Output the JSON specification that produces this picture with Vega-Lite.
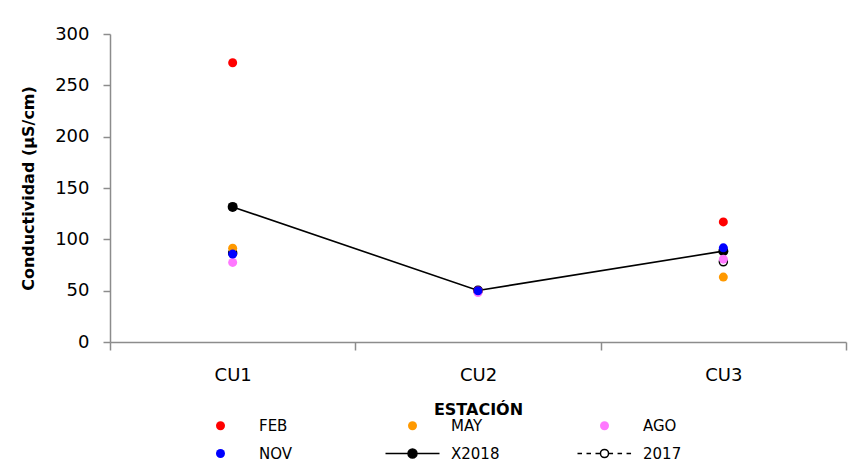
{
  "$schema": "https://vega.github.io/schema/vega-lite/v6.json",
  "width": 736,
  "height": 308,
  "autosize": "none",
  "padding": {"left": 110, "top": 34, "right": 15, "bottom": 122},
  "background": "white",
  "config": {
    "view": {"stroke": null},
    "font": "DejaVu Sans",
    "axis": {"domainColor": "#8c8c8c", "tickColor": "#8c8c8c", "domainWidth": 1.5, "tickWidth": 1.5, "grid": false, "labelColor": "#000000", "titleColor": "#000000", "labelFont": "DejaVu Sans", "titleFont": "DejaVu Sans"},
    "legend": {
      "title": null, "orient": "none", "legendX": 103, "legendY": 384, "direction": "horizontal",
      "columns": 3, "gridAlign": "all", "columnPadding": 74, "rowPadding": 12, "padding": 0,
      "symbolSize": 81, "symbolStrokeWidth": 1.5, "labelFontSize": 15, "labelFont": "DejaVu Sans", "labelColor": "#000000", "labelOffset": 31
    }
  },
  "data": {
    "values": [
      {"estacion": "CU1", "serie": "2017", "valor": 86.8},
      {"estacion": "CU3", "serie": "2017", "valor": 78.1},
      {"estacion": "CU1", "serie": "X2018", "valor": 131.6},
      {"estacion": "CU2", "serie": "X2018", "valor": 50.2},
      {"estacion": "CU3", "serie": "X2018", "valor": 88.5},
      {"estacion": "CU1", "serie": "FEB", "valor": 272},
      {"estacion": "CU2", "serie": "FEB", "valor": 50},
      {"estacion": "CU3", "serie": "FEB", "valor": 117},
      {"estacion": "CU1", "serie": "MAY", "valor": 91.4},
      {"estacion": "CU2", "serie": "MAY", "valor": 49.5},
      {"estacion": "CU3", "serie": "MAY", "valor": 63.2},
      {"estacion": "CU1", "serie": "AGO", "valor": 77.5},
      {"estacion": "CU2", "serie": "AGO", "valor": 48.1},
      {"estacion": "CU3", "serie": "AGO", "valor": 80.7},
      {"estacion": "CU1", "serie": "NOV", "valor": 85.6},
      {"estacion": "CU2", "serie": "NOV", "valor": 49.9},
      {"estacion": "CU3", "serie": "NOV", "valor": 91.7}
    ]
  },
  "encoding": {
    "x": {
      "field": "estacion", "type": "nominal", "title": "ESTACIÓN",
      "scale": {"domain": ["CU1", "CU2", "CU3"], "paddingInner": 0, "paddingOuter": 0},
      "axis": {"labelAngle": 0, "tickBand": "extent", "tickSize": 8, "labelFontSize": 18, "labelPadding": 16, "titleFontSize": 16, "titleFontWeight": "bold", "titlePadding": 17}
    },
    "y": {
      "field": "valor", "type": "quantitative", "title": "Conductividad  (µS/cm)",
      "scale": {"domain": [0, 300], "nice": false},
      "axis": {"values": [0, 50, 100, 150, 200, 250, 300], "tickSize": 7, "labelFontSize": 18, "labelPadding": 14, "titleFontSize": 16, "titleFontWeight": "bold", "titlePadding": 18}
    }
  },
  "layer": [
    {
      "transform": [{"filter": "datum.serie === '2017'"}],
      "mark": {"type": "point", "shape": "circle", "filled": false, "fill": "white", "stroke": "black", "strokeWidth": 1.5, "size": 64, "opacity": 1},
      "encoding": {}
    },
    {
      "transform": [{"filter": "datum.serie === 'X2018'"}],
      "mark": {"type": "line", "color": "black", "strokeWidth": 1.6},
      "encoding": {}
    },
    {
      "transform": [{"filter": "datum.serie === 'X2018'"}],
      "mark": {"type": "circle", "color": "black", "size": 100, "opacity": 1},
      "encoding": {}
    },
    {
      "transform": [{"filter": "datum.serie !== 'X2018' && datum.serie !== '2017'"}],
      "mark": {"type": "point", "size": 81, "opacity": 1, "strokeWidth": 1.5},
      "encoding": {
        "fill": {
          "field": "serie", "type": "nominal",
          "scale": {"domain": ["FEB", "MAY", "AGO", "NOV", "X2018", "2017"], "range": ["#ff0000", "#ff9900", "#ff77ff", "#0000ff", "#000000", "#ffffff"]}
        },
        "stroke": {
          "field": "serie", "type": "nominal",
          "scale": {"domain": ["FEB", "MAY", "AGO", "NOV", "X2018", "2017"], "range": ["transparent", "transparent", "transparent", "transparent", "#000000", "#000000"]}
        },
        "shape": {
          "field": "serie", "type": "nominal",
          "scale": {"domain": ["FEB", "MAY", "AGO", "NOV", "X2018", "2017"], "range": ["circle", "circle", "circle", "circle", "M-6,0L-1,0M1,0L6,0M1,0A1,1,0,1,1,-1,0A1,1,0,1,1,1,0Z", "M-6,0L-5,0M-4,0L-3,0M-2,0L-1,0M0.9,0L1.9,0M2.9,0L3.9,0M4.9,0L5.9,0M0.9,0A0.9,0.9,0,1,1,-0.9,0A0.9,0.9,0,1,1,0.9,0Z"]}
        }
      }
    }
  ]
}
